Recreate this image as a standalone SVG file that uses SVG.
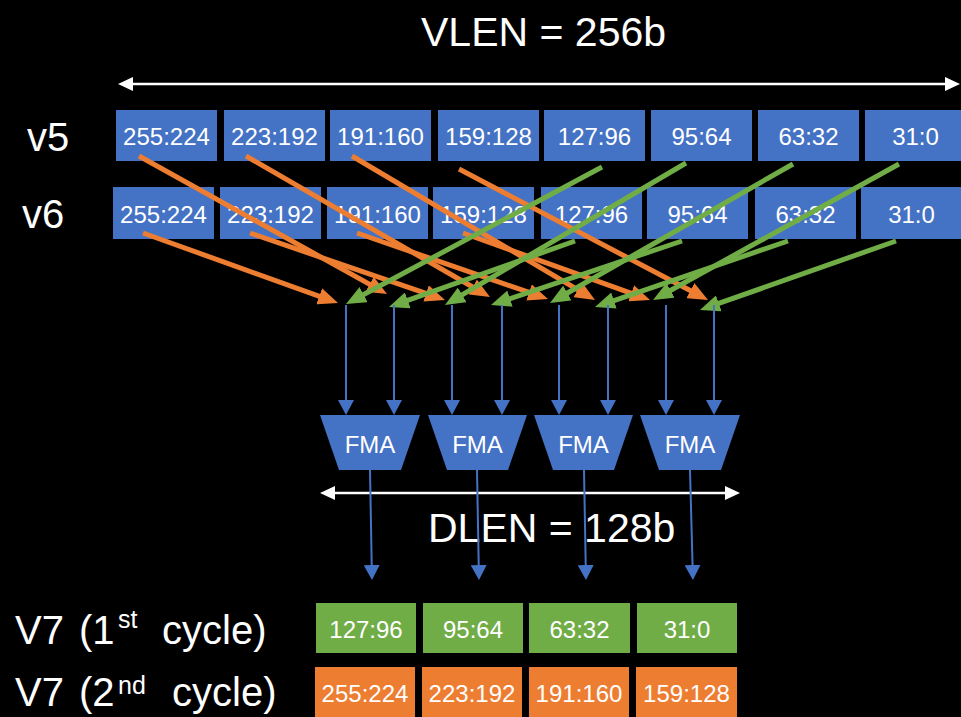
<svg xmlns="http://www.w3.org/2000/svg" width="961" height="717" viewBox="0 0 961 717">
  <defs>
    <style>
      text { font-family: "Liberation Sans", Arial, sans-serif; fill: #ffffff; }
      .lbl { font-size: 40px; }
      .title { font-size: 41px; }
      .cell { font-size: 24px; text-anchor: middle; }
      .fma-t { font-size: 24px; text-anchor: middle; }
      .sup { font-size: 25px; }
      .blue { fill: #4472C4; }
      .green { fill: #70AD47; }
      .orange { fill: #ED7D31; }
      .wline { stroke: #ffffff; stroke-width: 2.5; fill: none; marker-start: url(#headW); marker-end: url(#headW); }
      .bline { stroke: #4472C4; stroke-width: 2; fill: none; marker-end: url(#headB); }
      .oline { stroke: #ED7D31; stroke-width: 5; fill: none; marker-end: url(#headO); }
      .gline { stroke: #70AD47; stroke-width: 5; fill: none; marker-end: url(#headG); }
    </style>
    <marker id="headW" viewBox="0 0 15 14" markerWidth="15" markerHeight="14" refX="5" refY="7" markerUnits="userSpaceOnUse" orient="auto-start-reverse">
      <path d="M0,0 L15,7 L0,14 z" fill="#ffffff"/>
    </marker>
    <marker id="headB" viewBox="0 0 15 16" markerWidth="15" markerHeight="16" refX="5" refY="8" markerUnits="userSpaceOnUse" orient="auto">
      <path d="M0,0 L15,8 L0,16 z" fill="#4472C4"/>
    </marker>
    <marker id="headO" viewBox="0 0 20 17" markerWidth="20" markerHeight="17" refX="10" refY="8.5" markerUnits="userSpaceOnUse" orient="auto">
      <path d="M0,0 L20,8.5 L0,17 z" fill="#ED7D31"/>
    </marker>
    <marker id="headG" viewBox="0 0 20 17" markerWidth="20" markerHeight="17" refX="10" refY="8.5" markerUnits="userSpaceOnUse" orient="auto">
      <path d="M0,0 L20,8.5 L0,17 z" fill="#70AD47"/>
    </marker>
  </defs>

  <rect x="0" y="0" width="961" height="717" fill="#000000"/>

  <!-- titles and row labels -->
  <g id="labels">
    <text class="title" x="421" y="46">VLEN = 256b</text>
    <text class="lbl" x="27" y="151">v5</text>
    <text class="lbl" x="22" y="228">v6</text>
    <text class="lbl" x="15" y="644">V7</text>
    <text class="lbl" x="79" y="644">(1</text>
    <text class="sup" x="118" y="628">st</text>
    <text class="lbl" x="162" y="644">cycle)</text>
    <text class="lbl" x="15" y="706">V7</text>
    <text class="lbl" x="79" y="706">(2</text>
    <text class="sup" x="118" y="694">nd</text>
    <text class="lbl" x="172" y="706">cycle)</text>
  </g>

  <!-- width markers -->
  <g id="width-markers">
    <line class="wline" x1="128" y1="84" x2="950" y2="84"/>
    <line class="wline" x1="330" y1="493" x2="730" y2="493"/>
  </g>
  <text id="dlen" class="title" x="428" y="542">DLEN = 128b</text>

  <!-- source register v5 -->
  <g id="v5">
    <g id="v5-255-224"><rect class="blue" x="116" y="110" width="101" height="51"/><text class="cell" x="166.5" y="145">255:224</text></g>
    <g id="v5-223-192"><rect class="blue" x="224" y="110" width="101" height="51"/><text class="cell" x="274.5" y="145">223:192</text></g>
    <g id="v5-191-160"><rect class="blue" x="330" y="110" width="101" height="51"/><text class="cell" x="380.5" y="145">191:160</text></g>
    <g id="v5-159-128"><rect class="blue" x="438" y="110" width="101" height="51"/><text class="cell" x="488.5" y="145">159:128</text></g>
    <g id="v5-127-96"><rect class="blue" x="544" y="110" width="101" height="51"/><text class="cell" x="594.5" y="145">127:96</text></g>
    <g id="v5-95-64"><rect class="blue" x="651" y="110" width="101" height="51"/><text class="cell" x="701.5" y="145">95:64</text></g>
    <g id="v5-63-32"><rect class="blue" x="758" y="110" width="101" height="51"/><text class="cell" x="808.5" y="145">63:32</text></g>
    <g id="v5-31-0"><rect class="blue" x="865" y="110" width="101" height="51"/><text class="cell" x="915.5" y="145">31:0</text></g>
  </g>

  <!-- source register v6 -->
  <g id="v6">
    <g id="v6-255-224"><rect class="blue" x="113" y="187" width="101" height="52"/><text class="cell" x="163.5" y="223">255:224</text></g>
    <g id="v6-223-192"><rect class="blue" x="220" y="187" width="101" height="52"/><text class="cell" x="270.5" y="223">223:192</text></g>
    <g id="v6-191-160"><rect class="blue" x="327" y="187" width="101" height="52"/><text class="cell" x="377.5" y="223">191:160</text></g>
    <g id="v6-159-128"><rect class="blue" x="433" y="187" width="101" height="52"/><text class="cell" x="483.5" y="223">159:128</text></g>
    <g id="v6-127-96"><rect class="blue" x="541" y="187" width="101" height="52"/><text class="cell" x="591.5" y="223">127:96</text></g>
    <g id="v6-95-64"><rect class="blue" x="647" y="187" width="101" height="52"/><text class="cell" x="697.5" y="223">95:64</text></g>
    <g id="v6-63-32"><rect class="blue" x="755" y="187" width="101" height="52"/><text class="cell" x="805.5" y="223">63:32</text></g>
    <g id="v6-31-0"><rect class="blue" x="861" y="187" width="101" height="52"/><text class="cell" x="911.5" y="223">31:0</text></g>
  </g>

  <!-- FMA units -->
  <g id="fma1"><polygon class="blue" points="320,415 420,415 401,470 339,470"/><text class="fma-t" x="370" y="453">FMA</text></g>
  <g id="fma2"><polygon class="blue" points="428,415 527,415 508,470 447,470"/><text class="fma-t" x="477.5" y="453">FMA</text></g>
  <g id="fma3"><polygon class="blue" points="534,415 633,415 614,470 553,470"/><text class="fma-t" x="583.5" y="453">FMA</text></g>
  <g id="fma4"><polygon class="blue" points="640,415 740,415 721,470 659,470"/><text class="fma-t" x="690" y="453">FMA</text></g>

  <!-- destination register v7 -->
  <g id="v7-cycle1">
    <g id="v7a-127-96"><rect class="green" x="316" y="603" width="100" height="50"/><text class="cell" x="366" y="638">127:96</text></g>
    <g id="v7a-95-64"><rect class="green" x="423" y="603" width="100" height="50"/><text class="cell" x="473" y="638">95:64</text></g>
    <g id="v7a-63-32"><rect class="green" x="529" y="603" width="101" height="50"/><text class="cell" x="579.5" y="638">63:32</text></g>
    <g id="v7a-31-0"><rect class="green" x="637" y="603" width="100" height="50"/><text class="cell" x="687" y="638">31:0</text></g>
  </g>
  <g id="v7-cycle2">
    <g id="v7b-255-224"><rect class="orange" x="315" y="667" width="100" height="50"/><text class="cell" x="365" y="702">255:224</text></g>
    <g id="v7b-223-192"><rect class="orange" x="422" y="667" width="100" height="50"/><text class="cell" x="472" y="702">223:192</text></g>
    <g id="v7b-191-160"><rect class="orange" x="529" y="667" width="100" height="50"/><text class="cell" x="579" y="702">191:160</text></g>
    <g id="v7b-159-128"><rect class="orange" x="636" y="667" width="101" height="50"/><text class="cell" x="686.5" y="702">159:128</text></g>
  </g>

  <!-- connectors -->
  <g id="connectors">
    <!-- upper halves (second cycle) -->
    <line class="oline" x1="139" y1="156" x2="378.3" y2="289.1"/>
    <line class="oline" x1="143" y1="233" x2="328.6" y2="299.6"/>
    <line class="oline" x1="246" y1="156" x2="481.3" y2="292"/>
    <line class="oline" x1="250" y1="233" x2="435.5" y2="296.7"/>
    <line class="oline" x1="352" y1="156" x2="586.4" y2="294.9"/>
    <line class="oline" x1="357" y1="233" x2="538.5" y2="295.7"/>
    <line class="oline" x1="459" y1="169" x2="699.2" y2="295.3"/>
    <line class="oline" x1="463" y1="233" x2="640.6" y2="296.6"/>
    <!-- lower halves (first cycle) -->
    <line class="gline" x1="602" y1="167" x2="354.8" y2="299.3"/>
    <line class="gline" x1="575" y1="241" x2="398.4" y2="303.7"/>
    <line class="gline" x1="686" y1="163" x2="453.6" y2="299.9"/>
    <line class="gline" x1="682" y1="241" x2="500.5" y2="301.8"/>
    <line class="gline" x1="793" y1="164" x2="558.7" y2="298"/>
    <line class="gline" x1="788" y1="241" x2="604.5" y2="303.8"/>
    <line class="gline" x1="899" y1="164" x2="661.8" y2="295.2"/>
    <line class="gline" x1="896" y1="241" x2="709.4" y2="306.7"/>
    <!-- FMA inputs -->
    <line class="bline" x1="346" y1="305" x2="346" y2="405"/>
    <line class="bline" x1="394" y1="305" x2="394" y2="405"/>
    <line class="bline" x1="452" y1="305" x2="452" y2="405"/>
    <line class="bline" x1="502" y1="305" x2="502" y2="405"/>
    <line class="bline" x1="559" y1="305" x2="559" y2="405"/>
    <line class="bline" x1="608" y1="305" x2="608" y2="405"/>
    <line class="bline" x1="666" y1="305" x2="666" y2="405"/>
    <line class="bline" x1="714" y1="305" x2="714" y2="405"/>
    <!-- FMA outputs -->
    <line class="bline" x1="370" y1="470" x2="371.8" y2="570"/>
    <line class="bline" x1="477" y1="470" x2="478.8" y2="570"/>
    <line class="bline" x1="584" y1="470" x2="585.8" y2="570"/>
    <line class="bline" x1="690" y1="470" x2="692.7" y2="570"/>
  </g>
</svg>
